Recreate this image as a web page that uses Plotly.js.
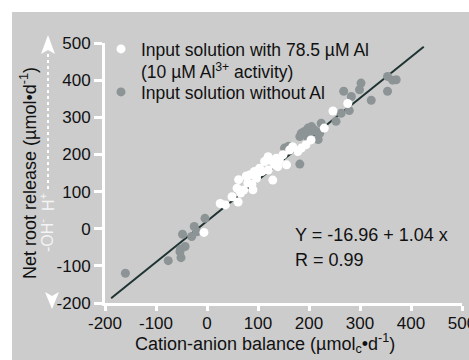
<!DOCTYPE html>
<html><head><meta charset="utf-8">
<script src="https://cdn.plot.ly/plotly-3.0.1.min.js"></script>
<style>
html,body{margin:0;padding:0;background:#ffffff;}
#chart{position:absolute;left:12px;top:12px;width:457px;height:348px;}
</style></head><body><div id="chart"></div>
<script>
// Input solution with 78.5 µM Al (white points)
const alX = [-6, 26, 36, 49, 61, 59, 62, 72, 77, 80, 84, 90, 93, 97, 103, 108, 113, 117, 120, 120, 129, 129, 133, 136, 139, 142, 149, 156, 162, 168, 178, 185, 194, 204, 230, 247, 276, 66, 88, 100];
const alY = [-10, 68, 64, 86, 72, 109, 132, 104, 142, 123, 145, 105, 154, 136, 163, 154, 181, 185, 158, 194, 181, 131, 172, 190, 167, 185, 199, 172, 212, 221, 208, 217, 226, 239, 271, 317, 337, 96, 120, 150];
// Input solution without Al (grey points)
const noAlX = [-160, -76, -51, -53, -52, -43, -48, -30, -25, -19, -4, 152, 160, 182, 182, 185, 191, 198, 198, 201, 205, 211, 214, 218, 221, 224, 253, 263, 268, 279, 283, 299, 302, 322, 354, 354, 364, 371];
const noAlY = [-120, -86, -78, -62, -55, -48, -15, -21, 6, -8, 28, 217, 222, 174, 248, 257, 262, 271, 244, 253, 275, 266, 262, 240, 257, 284, 289, 311, 370, 318, 356, 374, 392, 346, 410, 370, 400, 401];
// Regression line as drawn
const fitX = [-188, 425];
const fitY = [-187, 490];
const xTicks = [-200, -100, 0, 100, 200, 300, 400, 500];
const yTicks = [-200, -100, 0, 100, 200, 300, 400, 500];
const nameAl = "Input solution with 78.5 µM Al<br>(10 µM Al<sup>3+</sup> activity)";
const nameNoAl = "Input solution without Al";
const eqText = ["Y = -16.96 + 1.04 x", "R = 0.99"];

// layout helpers (page pixels -> paper coords)
const PL = 105, PR = 462, PT = 43, PB = 303;
function px(gx){ return (gx - PL) / (PR - PL); }
function py(gy){ return (PB - gy) / (PB - PT); }

const FONT = "Arial, 'Liberation Sans', sans-serif";
const BG = "#cccccc";
const GREY = "#8d9496";
const FS = 18;
const LFS = 17.5;

const traces = [
  {x: fitX, y: fitY, mode: "lines", line: {color: "#1e3332", width: 2}, showlegend: false, hoverinfo: "skip"},
  {x: noAlX, y: noAlY, mode: "markers", name: nameNoAl, legend: "legend2",
   marker: {color: GREY, size: 9, line: {width: 0}}},
  {x: alX, y: alY, mode: "markers", name: nameAl, legend: "legend",
   marker: {color: "#ffffff", size: 9, line: {width: 0}}}
];

const axisCommon = {
  showline: true, linecolor: "#ffffff", linewidth: 3,
  ticks: "outside", tickcolor: "#ffffff", tickwidth: 3,
  showgrid: false, zeroline: false, mirror: false,
  ticklabeloverflow: "allow",
  tickfont: {family: FONT, size: 17, color: "#111111"}
};

const legendCommon = {xanchor: "left", yanchor: "top", bgcolor: "rgba(0,0,0,0)",
  font: {family: FONT, size: LFS, color: "#111111"}, valign: "top", itemwidth: 30, tracegroupgap: 0};

const layout = {
  width: 457, height: 348,
  margin: {l: PL - 12, r: 469 - PR, t: PT - 12, b: 360 - PB},
  paper_bgcolor: BG, plot_bgcolor: BG,
  font: {family: FONT, size: FS, color: "#111111"},
  xaxis: Object.assign({}, axisCommon, {range: [-200, 500], tickvals: xTicks, ticktext: xTicks.map(String), ticklen: 5, ticklabelstandoff: -2}),
  yaxis: Object.assign({}, axisCommon, {range: [-200, 500], tickvals: yTicks, ticktext: yTicks.map(String), ticklen: 8}),
  showlegend: true,
  legend: Object.assign({}, legendCommon, {x: px(101), y: py(31)}),
  legend2: Object.assign({}, legendCommon, {x: px(101), y: py(74)}),
  annotations: [
    {xref: "paper", yref: "paper", x: px(28), y: py(173), textangle: -90, showarrow: false,
     text: "Net root release (µmol•d<sup>-1</sup>)", font: {size: FS}, xanchor: "center", yanchor: "middle"},
    {xref: "paper", yref: "paper", x: px(265), y: py(343), showarrow: false,
     text: "Cation-anion balance (µmol<sub>c</sub>•d<sup>-1</sup>)", font: {size: FS}, xanchor: "center", yanchor: "middle"},
    {xref: "paper", yref: "paper", x: px(293), y: py(235), showarrow: false, text: eqText[0],
     font: {size: FS}, xanchor: "left", yanchor: "middle"},
    {xref: "paper", yref: "paper", x: px(293), y: py(260), showarrow: false, text: eqText[1],
     font: {size: FS}, xanchor: "left", yanchor: "middle"},
    {xref: "paper", yref: "paper", x: px(47), y: py(202), textangle: -90, showarrow: false,
     text: "H<sup>+</sup>", font: {size: 16, color: "#f4f4f4"}, xanchor: "center", yanchor: "middle"},
    {xref: "paper", yref: "paper", x: px(46), y: py(236), textangle: -90, showarrow: false,
     text: "-OH<sup>-</sup>", font: {size: 16, color: "#f4f4f4"}, xanchor: "center", yanchor: "middle"}
  ],
  shapes: [
    {type: "line", xref: "paper", yref: "paper", x0: px(48), x1: px(48), y0: py(54), y1: py(189),
     line: {color: "#ffffff", width: 2, dash: "dot"}},
    {type: "path", xref: "paper", yref: "paper", fillcolor: "#ffffff", line: {width: 0},
     path: `M ${px(41)},${py(54)} L ${px(48)},${py(35)} L ${px(55)},${py(54)} L ${px(48)},${py(50)} Z`},
    {type: "path", xref: "paper", yref: "paper", fillcolor: "#ffffff", line: {width: 0},
     path: `M ${px(45)},${py(292)} L ${px(52)},${py(309)} L ${px(59)},${py(292)} L ${px(52)},${py(296)} Z`}
  ]
};

Plotly.newPlot("chart", traces, layout, {displayModeBar: false, staticPlot: true});
</script></body></html>
